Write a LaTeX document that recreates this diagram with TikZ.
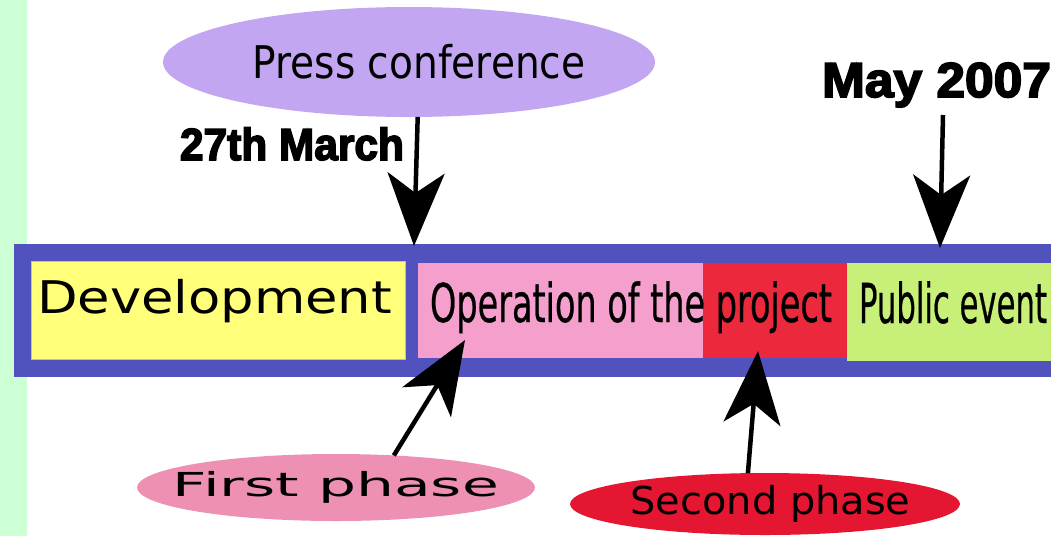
\documentclass[tikz,border=0pt]{standalone}
\usepackage{fontspec}
\usepackage{graphicx}
\setmainfont{DejaVu Sans}
\newfontfamily\heavyfont{Liberation Sans}[FakeBold=3.5]
\IfFontExistsTF{DejaVu Sans Condensed}
  {\newfontfamily\narrowfont{DejaVu Sans Condensed}[FakeBold=0.6]}
  {\newfontfamily\narrowfont{DejaVu Sans}[FakeBold=0.8]}
\usetikzlibrary{shapes.geometric,arrows.meta}
\definecolor{mint}{RGB}{204,255,212}
\definecolor{bandc}{RGB}{82,82,190}
\definecolor{devc}{RGB}{255,255,122}
\definecolor{opc}{RGB}{245,160,204}
\definecolor{projc}{RGB}{236,40,60}
\definecolor{pubc}{RGB}{200,240,120}
\definecolor{pressc}{RGB}{194,166,242}
\definecolor{firstc}{RGB}{238,144,180}
\definecolor{secondc}{RGB}{228,22,50}
\newcommand{\fitw}[3]{\resizebox{#1}{\height}{\fontsize{#2}{#2}\selectfont #3}}
\begin{document}
\begin{tikzpicture}[x=1pt,y=-1pt,
  boxn/.style={inner sep=0pt, outer sep=0pt, anchor=north west},
  lbl/.style={anchor=base west, inner sep=0pt, outer sep=0pt},
  oval/.style={ellipse, inner sep=0pt, outer sep=0pt},
  arr/.style={line width=4.5pt, -{Stealth[length=73pt,width=57pt,inset=20pt]}}
]
\useasboundingbox (0,0) rectangle (1051,536);
\fill[mint] (0,0) rectangle (27,536);
\node[boxn, fill=bandc, minimum width=1037pt, minimum height=133pt] (band) at (14,244) {};
\node[boxn, fill=devc, draw=devc!55!gray, line width=0.8pt, minimum width=374pt, minimum height=98pt] (dev) at (31,261) {};
\node[boxn, fill=opc, minimum width=285pt, minimum height=95pt] (op) at (418,263) {};
\node[boxn, fill=projc, minimum width=144pt, minimum height=95pt] (proj) at (703,263) {};
\node[boxn, fill=pubc, minimum width=204pt, minimum height=98pt] (pub) at (847,263) {};
% box texts
\node[lbl] (devt) at (37,313) {\fitw{355pt}{45pt}{Development}};
\node[lbl] (opt) at (430,322) {\fitw{402pt}{53.5pt}{\narrowfont Operation of the project}};
\node[lbl] (pubt) at (859,323) {\fitw{188pt}{55pt}{\narrowfont Public event}};
% ellipses
\node[oval, fill=pressc, minimum width=492pt, minimum height=110pt] (press) at (409,62)
  {\makebox[0pt]{\hspace*{20pt}\fitw{333pt}{45pt}{Press conference}}};
\node[oval, fill=firstc, minimum width=398pt, minimum height=67pt] (first) at (336,487.5)
  {\makebox[0pt]{\fitw{326pt}{33pt}{First phase}}};
\node[oval, fill=secondc, minimum width=390pt, minimum height=62pt] (second) at (765,504)
  {\makebox[0pt]{\hspace*{11pt}\fitw{280pt}{38.4pt}{Second phase}}};
% date labels
\node[lbl] (march) at (180,160) {\fitw{224pt}{45pt}{\heavyfont\bfseries 27th March}};
\node[lbl] (may) at (822,97) {\fitw{229pt}{49pt}{\heavyfont\bfseries May 2007}};
% arrow ends
\coordinate (pcTip) at (414,246);
\coordinate (mayS) at (943,115);
\coordinate (pubTip) at (940,248);
\coordinate (opTip) at (465,340);
\coordinate (projTip) at (758,351);
\draw[arr] (press.279) -- (pcTip);
\draw[arr] (mayS) -- (pubTip);
\draw[arr] (first.29) -- (opTip);
\draw[arr] (second.119) -- (projTip);
\end{tikzpicture}
\end{document}
